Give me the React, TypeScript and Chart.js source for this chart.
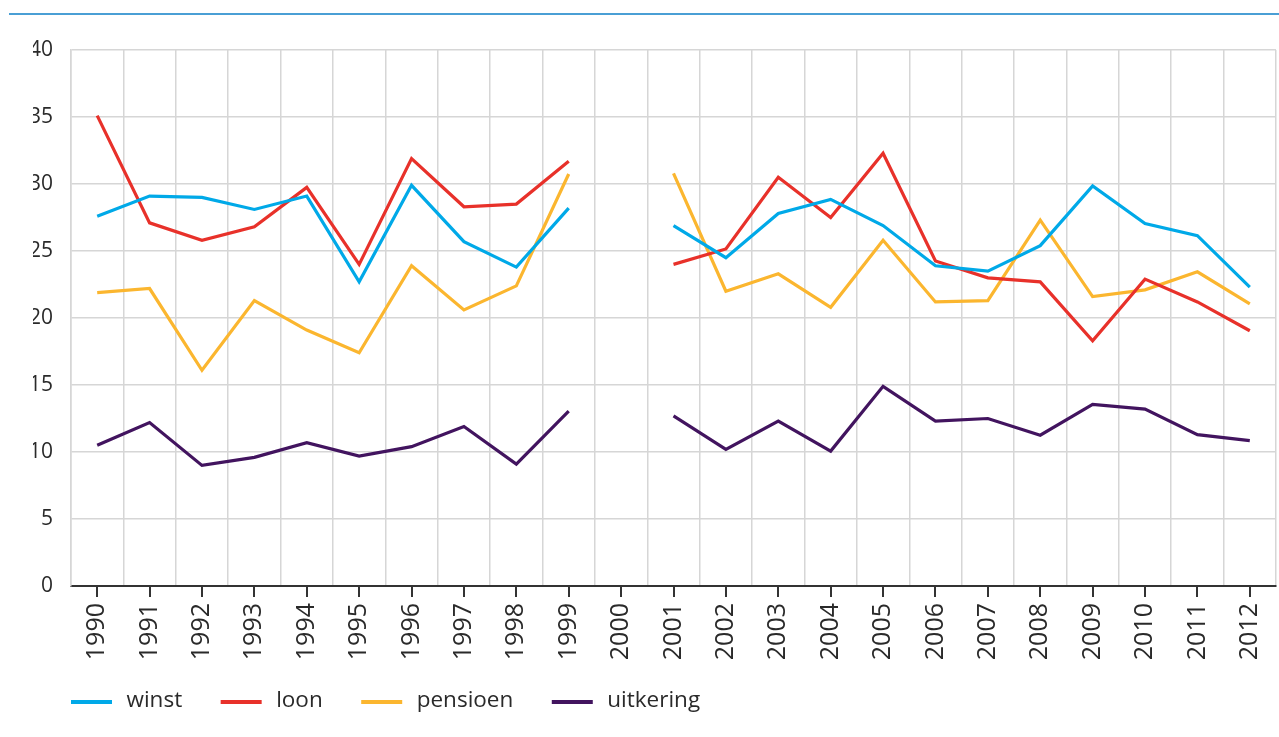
import React, { useEffect, useRef } from "react";
import { Chart, registerables } from "chart.js";

Chart.register(...registerables);

const years = ["1990", "1991", "1992", "1993", "1994", "1995", "1996", "1997", "1998", "1999", "2000", "2001", "2002", "2003", "2004", "2005", "2006", "2007", "2008", "2009", "2010", "2011", "2012"];
const winst = [27.6, 29.1, 29.0, 28.1, 29.1, 22.7, 29.9, 25.7, 23.8, 28.2, null, 26.9, 24.5, 27.8, 28.85, 26.9, 23.9, 23.5, 25.4, 29.85, 27.05, 26.15, 22.3];
const loon = [35.1, 27.1, 25.8, 26.8, 29.75, 24.0, 31.9, 28.3, 28.5, 31.7, null, 24.0, 25.15, 30.5, 27.5, 32.3, 24.25, 23.0, 22.7, 18.3, 22.9, 21.2, 19.05];
const pensioen = [21.9, 22.2, 16.1, 21.3, 19.1, 17.4, 23.9, 20.6, 22.4, 30.75, null, 30.8, 22.0, 23.3, 20.8, 25.8, 21.2, 21.3, 27.3, 21.6, 22.1, 23.45, 21.05];
const uitkering = [10.5, 12.2, 9.0, 9.6, 10.7, 9.7, 10.4, 11.9, 9.1, 13.05, null, 12.7, 10.2, 12.3, 10.07, 14.9, 12.3, 12.5, 11.25, 13.55, 13.2, 11.3, 10.85];
const seriesNames = ["winst", "loon", "pensioen", "uitkering"];
const seriesColors = ["#00a9e8", "#e8312a", "#fbb62f", "#42145f"];

const FONT = "'Open Sans', 'DejaVu Sans', sans-serif";
const TEXT = "#2a2a2a";
const GRID = "#d6d6d6";

const tickMarks = {
  id: "tickMarks",
  afterDraw(chart: any) {
    const x = chart.scales.x;
    const ctx = chart.ctx;
    const bottom = chart.chartArea.bottom;
    ctx.save();
    ctx.strokeStyle = "#333333";
    ctx.lineWidth = 2;
    for (let i = 0; i < x.ticks.length; i++) {
      const px = Math.round(x.getPixelForTick(i));
      ctx.beginPath();
      ctx.moveTo(px, bottom);
      ctx.lineTo(px, bottom + 11);
      ctx.stroke();
    }
    ctx.restore();
  },
};

const bottomLegend = {
  id: "bottomLegend",
  afterDraw(chart: any) {
    const ctx = chart.ctx;
    const y = 702;
    let x = chart.chartArea.left;
    ctx.save();
    ctx.font = `22.5px ${FONT}`;
    ctx.textBaseline = "middle";
    ctx.textAlign = "left";
    chart.data.datasets.forEach((ds: any) => {
      ctx.fillStyle = ds.borderColor;
      ctx.fillRect(x, y - 2, 41, 4);
      x += 41 + 14.5;
      ctx.fillStyle = TEXT;
      ctx.fillText(ds.label, x, y - 1);
      x += ctx.measureText(ds.label).width + 38.5;
    });
    ctx.restore();
  },
};

export default function App() {
  const ref = useRef<HTMLCanvasElement | null>(null);
  useEffect(() => {
    if (!ref.current) return;
    const all = [winst, loon, pensioen, uitkering];
    const chart = new Chart(ref.current, {
      type: "line",
      data: {
        labels: years,
        datasets: seriesNames.map((name, i) => ({
          label: name,
          data: all[i],
          borderColor: seriesColors[i],
          backgroundColor: seriesColors[i],
          borderWidth: 3.2,
          pointRadius: 0,
          tension: 0,
          spanGaps: false,
          borderJoinStyle: "miter" as const,
        })),
      },
      options: {
        responsive: false,
        animation: false,
        layout: { padding: { left: 33, right: 3, top: 50, bottom: 71 } },
        plugins: {
          tooltip: { enabled: false },
          legend: { display: false },
        },
        scales: {
          x: {
            offset: true,
            grid: { offset: true, color: GRID, lineWidth: 1.5, drawTicks: false },
            border: { color: "#333333", width: 2 },
            ticks: {
              minRotation: 90,
              maxRotation: 90,
              autoSkip: false,
              padding: 17,
              color: TEXT,
              font: { family: FONT, size: 25 },
            },
            afterFit(scale: any) {
              scale.height = 80;
              scale.paddingRight = 0;
              scale.paddingLeft = 0;
            },
          },
          y: {
            min: 0,
            max: 40,
            ticks: {
              stepSize: 5,
              padding: 18,
              color: TEXT,
              font: { family: FONT, size: 21 },
            },
            grid: { color: GRID, lineWidth: 1.5, drawTicks: false },
            border: { color: GRID, width: 1.5 },
            afterFit(scale: any) {
              scale.width = 38;
            },
          },
        },
      },
      plugins: [tickMarks, bottomLegend],
    });
    return () => chart.destroy();
  }, []);
  return (
    <div style={{ position: "absolute", left: 0, top: 0, width: 1279, height: 737, background: "#fff" }}>
      <div style={{ position: "absolute", left: 9, top: 13, width: 1270, height: 2, background: "#4a9fd5" }} />
      <canvas ref={ref} width={1279} height={737} style={{ position: "absolute", left: 0, top: 0 }} />
    </div>
  );
}
